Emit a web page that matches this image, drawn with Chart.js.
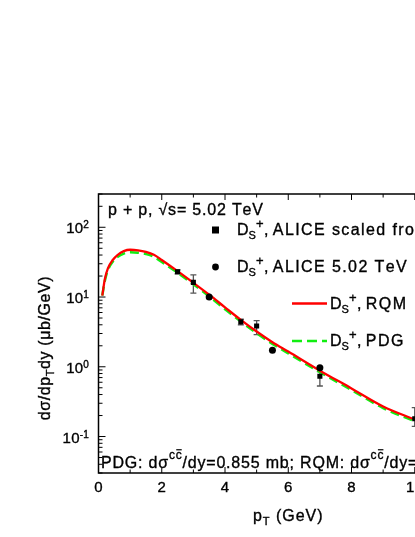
<!DOCTYPE html>
<html>
<head>
<meta charset="utf-8">
<script src="https://cdn.jsdelivr.net/npm/chart.js@4.4.1/dist/chart.umd.min.js"></script>
<style>
html, body { margin: 0; padding: 0; background: #fff; overflow: hidden; }
#wrap { width: 500px; height: 537px; }
</style>
</head>
<body>
<div id="wrap"><canvas id="chart" width="500" height="537"></canvas></div>
<script>
const FONT = '"Liberation Sans", Arial, sans-serif';

// model curves (pT in GeV, dsigma/dpTdy in microbarn/GeV)
const curvePt = [0.12, 0.2, 0.3, 0.45, 0.6, 0.8, 1.0, 1.25, 1.5, 1.75, 2.0, 2.5, 3.0, 3.5, 4.0, 4.5, 5.0, 5.5, 6.0, 7.0, 8.0, 9.0, 10.0, 11.0, 12.0];
const rqmValues = [10.5, 18, 26, 34, 40, 45.5, 47.6, 46.8, 44.5, 40.5, 34, 23.5, 16, 10.8, 7.1, 4.7, 3.2, 2.25, 1.65, 0.88, 0.49, 0.27, 0.175, 0.115, 0.078];
const pdgValues = [10.5, 17, 24.5, 32, 37.5, 42, 44, 43.3, 41.3, 37.8, 31.7, 22.3, 15.2, 10.2, 6.7, 4.45, 3.03, 2.13, 1.56, 0.835, 0.465, 0.256, 0.166, 0.109, 0.074];

// ALICE scaled from 7 TeV (squares, with errors)
const sqPt = [2.5, 3.0, 4.5, 5.0, 7.0, 10.0];
const sqValues = [23, 16.2, 4.4, 3.85, 0.73, 0.18];
const sqLow = [21.5, 11.4, 4.0, 2.9, 0.53, 0.14];
const sqHigh = [24.5, 20.8, 4.8, 4.6, 0.85, 0.26];

// ALICE 5.02 TeV (circles)
const cirPt = [3.5, 5.5, 7.0];
const cirValues = [10.0, 1.72, 0.97];

const xTicks = [0, 2, 4, 6, 8, 10, 12];
const xMinor = [1, 3, 5, 7, 9, 11];
const yTicks = [0.1, 1, 10, 100];
const yTickExp = ['-1', '0', '1', '2'];

function toXY(xs, ys) {
  return xs.map((x, i) => ({ x: x, y: ys[i] }));
}

// parts: [text, size, dy, overline, spacing]
function partSp(p, sp) { return p[4] !== undefined ? p[4] : sp; }
function richWidth(ctx, parts, sp) {
  let w = 0;
  parts.forEach(p => {
    ctx.font = p[1] + 'px ' + FONT;
    for (const ch of p[0]) w += ctx.measureText(ch).width + partSp(p, sp);
  });
  return w;
}
function drawRich(ctx, parts, x, y, sp, align) {
  let cx = x;
  if (align === 'center') cx -= richWidth(ctx, parts, sp) / 2;
  if (align === 'right') cx -= richWidth(ctx, parts, sp);
  ctx.lineWidth = 0.35;
  parts.forEach(p => {
    ctx.font = p[1] + 'px ' + FONT;
    const x0 = cx, s = partSp(p, sp);
    for (const ch of p[0]) {
      ctx.fillText(ch, cx, y + p[2]);
      ctx.strokeText(ch, cx, y + p[2]);
      cx += ctx.measureText(ch).width + s;
    }
    if (p[3]) ctx.fillRect(x0 + 0.5, y + p[2] - p[1] * 0.82, cx - x0 - s - 0.5, 1.2);
  });
}
function ds(rest) {
  return [['D', 16, 0, false, 0], ['S', 11, 4, false, 0], ['+', 13, -7, false, 0.5], [', ', 16, 0, false, 0], [rest, 16, 0]];
}

const decor = {
  id: 'decor',
  beforeDatasetsDraw(chart) {
    const ctx = chart.ctx, xs = chart.scales.x, ys = chart.scales.y;
    ctx.save();
    ctx.strokeStyle = '#555';
    ctx.lineWidth = 1.3;
    sqPt.forEach((pt, i) => {
      const px = xs.getPixelForValue(pt);
      const yl = ys.getPixelForValue(sqLow[i]), yh = ys.getPixelForValue(sqHigh[i]);
      ctx.beginPath();
      ctx.moveTo(px, yl); ctx.lineTo(px, yh);
      ctx.moveTo(px - 3, yl); ctx.lineTo(px + 3, yl);
      ctx.moveTo(px - 3, yh); ctx.lineTo(px + 3, yh);
      ctx.stroke();
    });
    ctx.restore();
  },
  afterDraw(chart) {
    const ctx = chart.ctx, a = chart.chartArea, xs = chart.scales.x, ys = chart.scales.y;
    ctx.save();
    ctx.fillStyle = '#000';
    ctx.strokeStyle = '#000';
    ctx.lineWidth = 1.5;
    ctx.strokeRect(a.left, a.top, a.right - a.left, a.bottom - a.top);

    // ticks, all pointing inward
    ctx.lineWidth = 1;
    ctx.beginPath();
    xTicks.forEach(v => {
      const px = xs.getPixelForValue(v);
      ctx.moveTo(px, a.bottom); ctx.lineTo(px, a.bottom - 6);
      ctx.moveTo(px, a.top); ctx.lineTo(px, a.top + 6);
    });
    xMinor.forEach(v => {
      const px = xs.getPixelForValue(v);
      ctx.moveTo(px, a.bottom); ctx.lineTo(px, a.bottom - 3.5);
      ctx.moveTo(px, a.top); ctx.lineTo(px, a.top + 3.5);
    });
    for (let d = 0.01; d <= 100; d *= 10) {
      for (let m = 1; m <= 9; m++) {
        const v = d * m;
        if (v < 0.03 || v > 300) continue;
        const py = ys.getPixelForValue(v);
        const len = m === 1 ? 7 : 4;
        ctx.moveTo(a.left, py); ctx.lineTo(a.left + len, py);
        ctx.moveTo(a.right, py); ctx.lineTo(a.right - len, py);
      }
    }
    ctx.stroke();

    // tick labels
    ctx.textBaseline = 'alphabetic';
    ctx.textAlign = 'left';
    xTicks.forEach(v => {
      drawRich(ctx, [[String(v), 15, 0]], xs.getPixelForValue(v), 492, 0.3, 'center');
    });
    yTicks.forEach((v, i) => {
      const py = ys.getPixelForValue(v);
      drawRich(ctx, [['10', 15, 0], [yTickExp[i], 10, -5]], 89, py + 6, 0.2, 'right');
    });

    // axis titles
    drawRich(ctx, [['p', 16, 0], ['T', 11, 4], [' (GeV)', 16, 0]], (a.left + a.right) / 2, 521, 1, 'center');
    ctx.save();
    ctx.translate(50, 348);
    ctx.rotate(-Math.PI / 2);
    drawRich(ctx, [['dσ/dp', 16, 0], ['T', 11, 4], ['dy (μb/GeV)', 16, 0]], 0, 0, 0.6, 'center');
    ctx.restore();

    // top-left label and bottom note
    drawRich(ctx, [['p + p, √s= 5.02 TeV', 16, 0]], 108, 215, 0.8);
    drawRich(ctx, [['PDG: dσ', 16, 0], ['c', 12, -9], ['c', 12, -9, true], ['/dy=0.855 mb; RQM: dσ', 16, 0],
      ['c', 12, -9], ['c', 12, -9, true], ['/dy=0.951 mb', 16, 0]], 101, 468, 0.8);

    // legend
    ctx.fillRect(212, 226.5, 7, 7);
    ctx.beginPath();
    ctx.arc(215.5, 267, 3.4, 0, Math.PI * 2);
    ctx.fill();
    drawRich(ctx, ds('ALICE scaled from 7 TeV'), 237, 235, 1.4);
    drawRich(ctx, ds('ALICE 5.02 TeV'), 237, 272, 1.4);
    ctx.lineWidth = 2.3;
    ctx.strokeStyle = '#ff0000';
    ctx.beginPath(); ctx.moveTo(292, 303.5); ctx.lineTo(327, 303.5); ctx.stroke();
    ctx.strokeStyle = '#11ee11';
    ctx.lineWidth = 2.5;
    ctx.setLineDash([10, 5]);
    ctx.beginPath(); ctx.moveTo(292, 341); ctx.lineTo(327, 341); ctx.stroke();
    ctx.setLineDash([]);
    ctx.strokeStyle = '#000';
    drawRich(ctx, ds('RQM'), 330, 309, 1.4);
    drawRich(ctx, ds('PDG'), 330, 346, 1.4);
    ctx.restore();
  }
};

new Chart(document.getElementById('chart'), {
  type: 'scatter',
  data: {
    datasets: [
      { label: 'ALICE scaled', data: toXY(sqPt, sqValues), pointStyle: 'rect', pointRadius: 3.6,
        backgroundColor: '#000', borderColor: '#000', borderWidth: 0, order: 0 },
      { label: 'ALICE 5.02 TeV', data: toXY(cirPt, cirValues), pointStyle: 'circle', pointRadius: 3.5,
        backgroundColor: '#000', borderColor: '#000', borderWidth: 0, order: 0 },
      { label: 'RQM', data: toXY(curvePt, rqmValues), showLine: true, borderColor: '#ff0000', borderWidth: 2.3,
        pointRadius: 0, cubicInterpolationMode: 'monotone', order: 1 },
      { label: 'PDG', data: toXY(curvePt, pdgValues), showLine: true, borderColor: '#11ee11', borderWidth: 2.5,
        borderDash: [9, 5], pointRadius: 0, cubicInterpolationMode: 'monotone', order: 2 }
    ]
  },
  options: {
    responsive: false,
    animation: false,
    layout: { padding: { left: 98.5, right: 22, top: 194, bottom: 64 } },
    plugins: { legend: { display: false }, tooltip: { enabled: false } },
    scales: {
      x: { type: 'linear', min: 0, max: 12, display: false },
      y: { type: 'logarithmic', min: 0.03, max: 300, display: false }
    }
  },
  plugins: [decor]
});
</script>
</body>
</html>
